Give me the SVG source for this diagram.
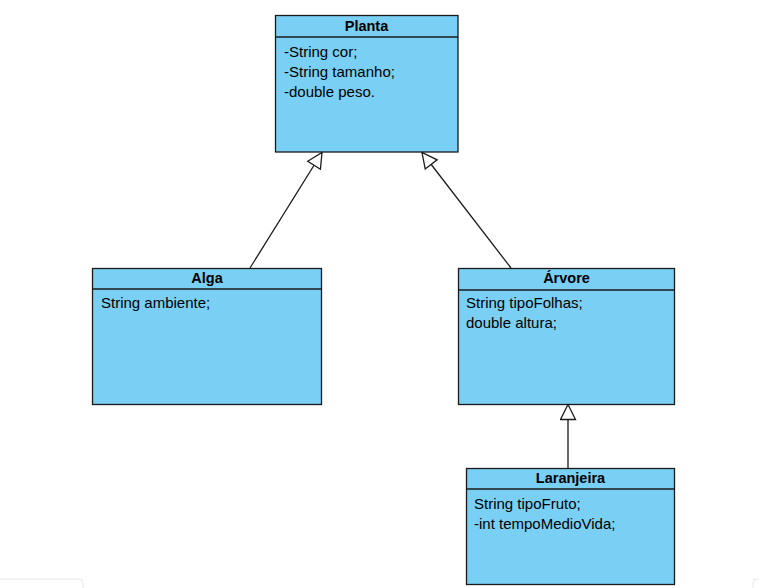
<svg xmlns="http://www.w3.org/2000/svg" width="759" height="588" viewBox="0 0 759 588">
  <style>
    .box { fill: #7acff5; stroke: #1a1a1a; stroke-width: 1.3; }
    .sep { stroke: #1a1a1a; stroke-width: 1.3; fill: none; }
    .title { font-family: "Liberation Sans", Arial, sans-serif; font-size: 14.5px; font-weight: bold; fill: #000; text-anchor: middle; }
    .attr { font-family: "Liberation Sans", Arial, sans-serif; font-size: 15px; fill: #000; }
    .edge { stroke: #1a1a1a; stroke-width: 1.3; fill: none; marker-end: url(#inherit); }
    .ui { fill: #fff; stroke: #e6e6e6; stroke-width: 1; }
  </style>
  <defs>
    <!-- hollow triangle: UML generalization -->
    <marker id="inherit" viewBox="0 0 17 17" refX="16" refY="8.5" markerWidth="17" markerHeight="17" markerUnits="userSpaceOnUse" orient="auto">
      <path d="M1,1 L16,8.5 L1,16 Z" fill="#fff" stroke="#1a1a1a" stroke-width="1.3"/>
    </marker>
  </defs>
  <rect width="759" height="588" fill="#fff"/>

  <!-- panel corners along the bottom edge -->
  <rect class="ui" x="-6" y="579" width="89" height="20" rx="4"/>
  <rect class="ui" x="753" y="579" width="20" height="20" rx="4"/>

  <g id="connectors">
    <line class="edge" x1="250" y1="268" x2="322" y2="152.5"/>
    <line class="edge" x1="511" y1="268" x2="422" y2="152.5"/>
    <line class="edge" x1="568" y1="468" x2="568" y2="404.5"/>
  </g>

  <g id="planta">
    <rect class="box" x="275.5" y="15.5" width="182.5" height="136.5"/>
    <line class="sep" x1="275.5" y1="37" x2="458" y2="37"/>
    <text class="title" x="366.5" y="31">Planta</text>
    <text class="attr" x="284" y="57">-String cor;</text>
    <text class="attr" x="284" y="77">-String tamanho;</text>
    <text class="attr" x="284" y="97">-double peso.</text>
  </g>

  <g id="alga">
    <rect class="box" x="92.5" y="268.5" width="229" height="136"/>
    <line class="sep" x1="92.5" y1="289" x2="321.5" y2="289"/>
    <text class="title" x="207" y="283">Alga</text>
    <text class="attr" x="101" y="308">String ambiente;</text>
  </g>

  <g id="arvore">
    <rect class="box" x="458.5" y="268.5" width="216" height="136"/>
    <line class="sep" x1="458.5" y1="290" x2="674.5" y2="290"/>
    <text class="title" x="566.5" y="283">Árvore</text>
    <text class="attr" x="466" y="308">String tipoFolhas;</text>
    <text class="attr" x="466" y="328">double altura;</text>
  </g>

  <g id="laranjeira">
    <rect class="box" x="466.5" y="468.5" width="208" height="116"/>
    <line class="sep" x1="466.5" y1="489" x2="674.5" y2="489"/>
    <text class="title" x="570.5" y="483">Laranjeira</text>
    <text class="attr" x="474" y="509">String tipoFruto;</text>
    <text class="attr" x="474" y="529">-int tempoMedioVida;</text>
  </g>
</svg>
